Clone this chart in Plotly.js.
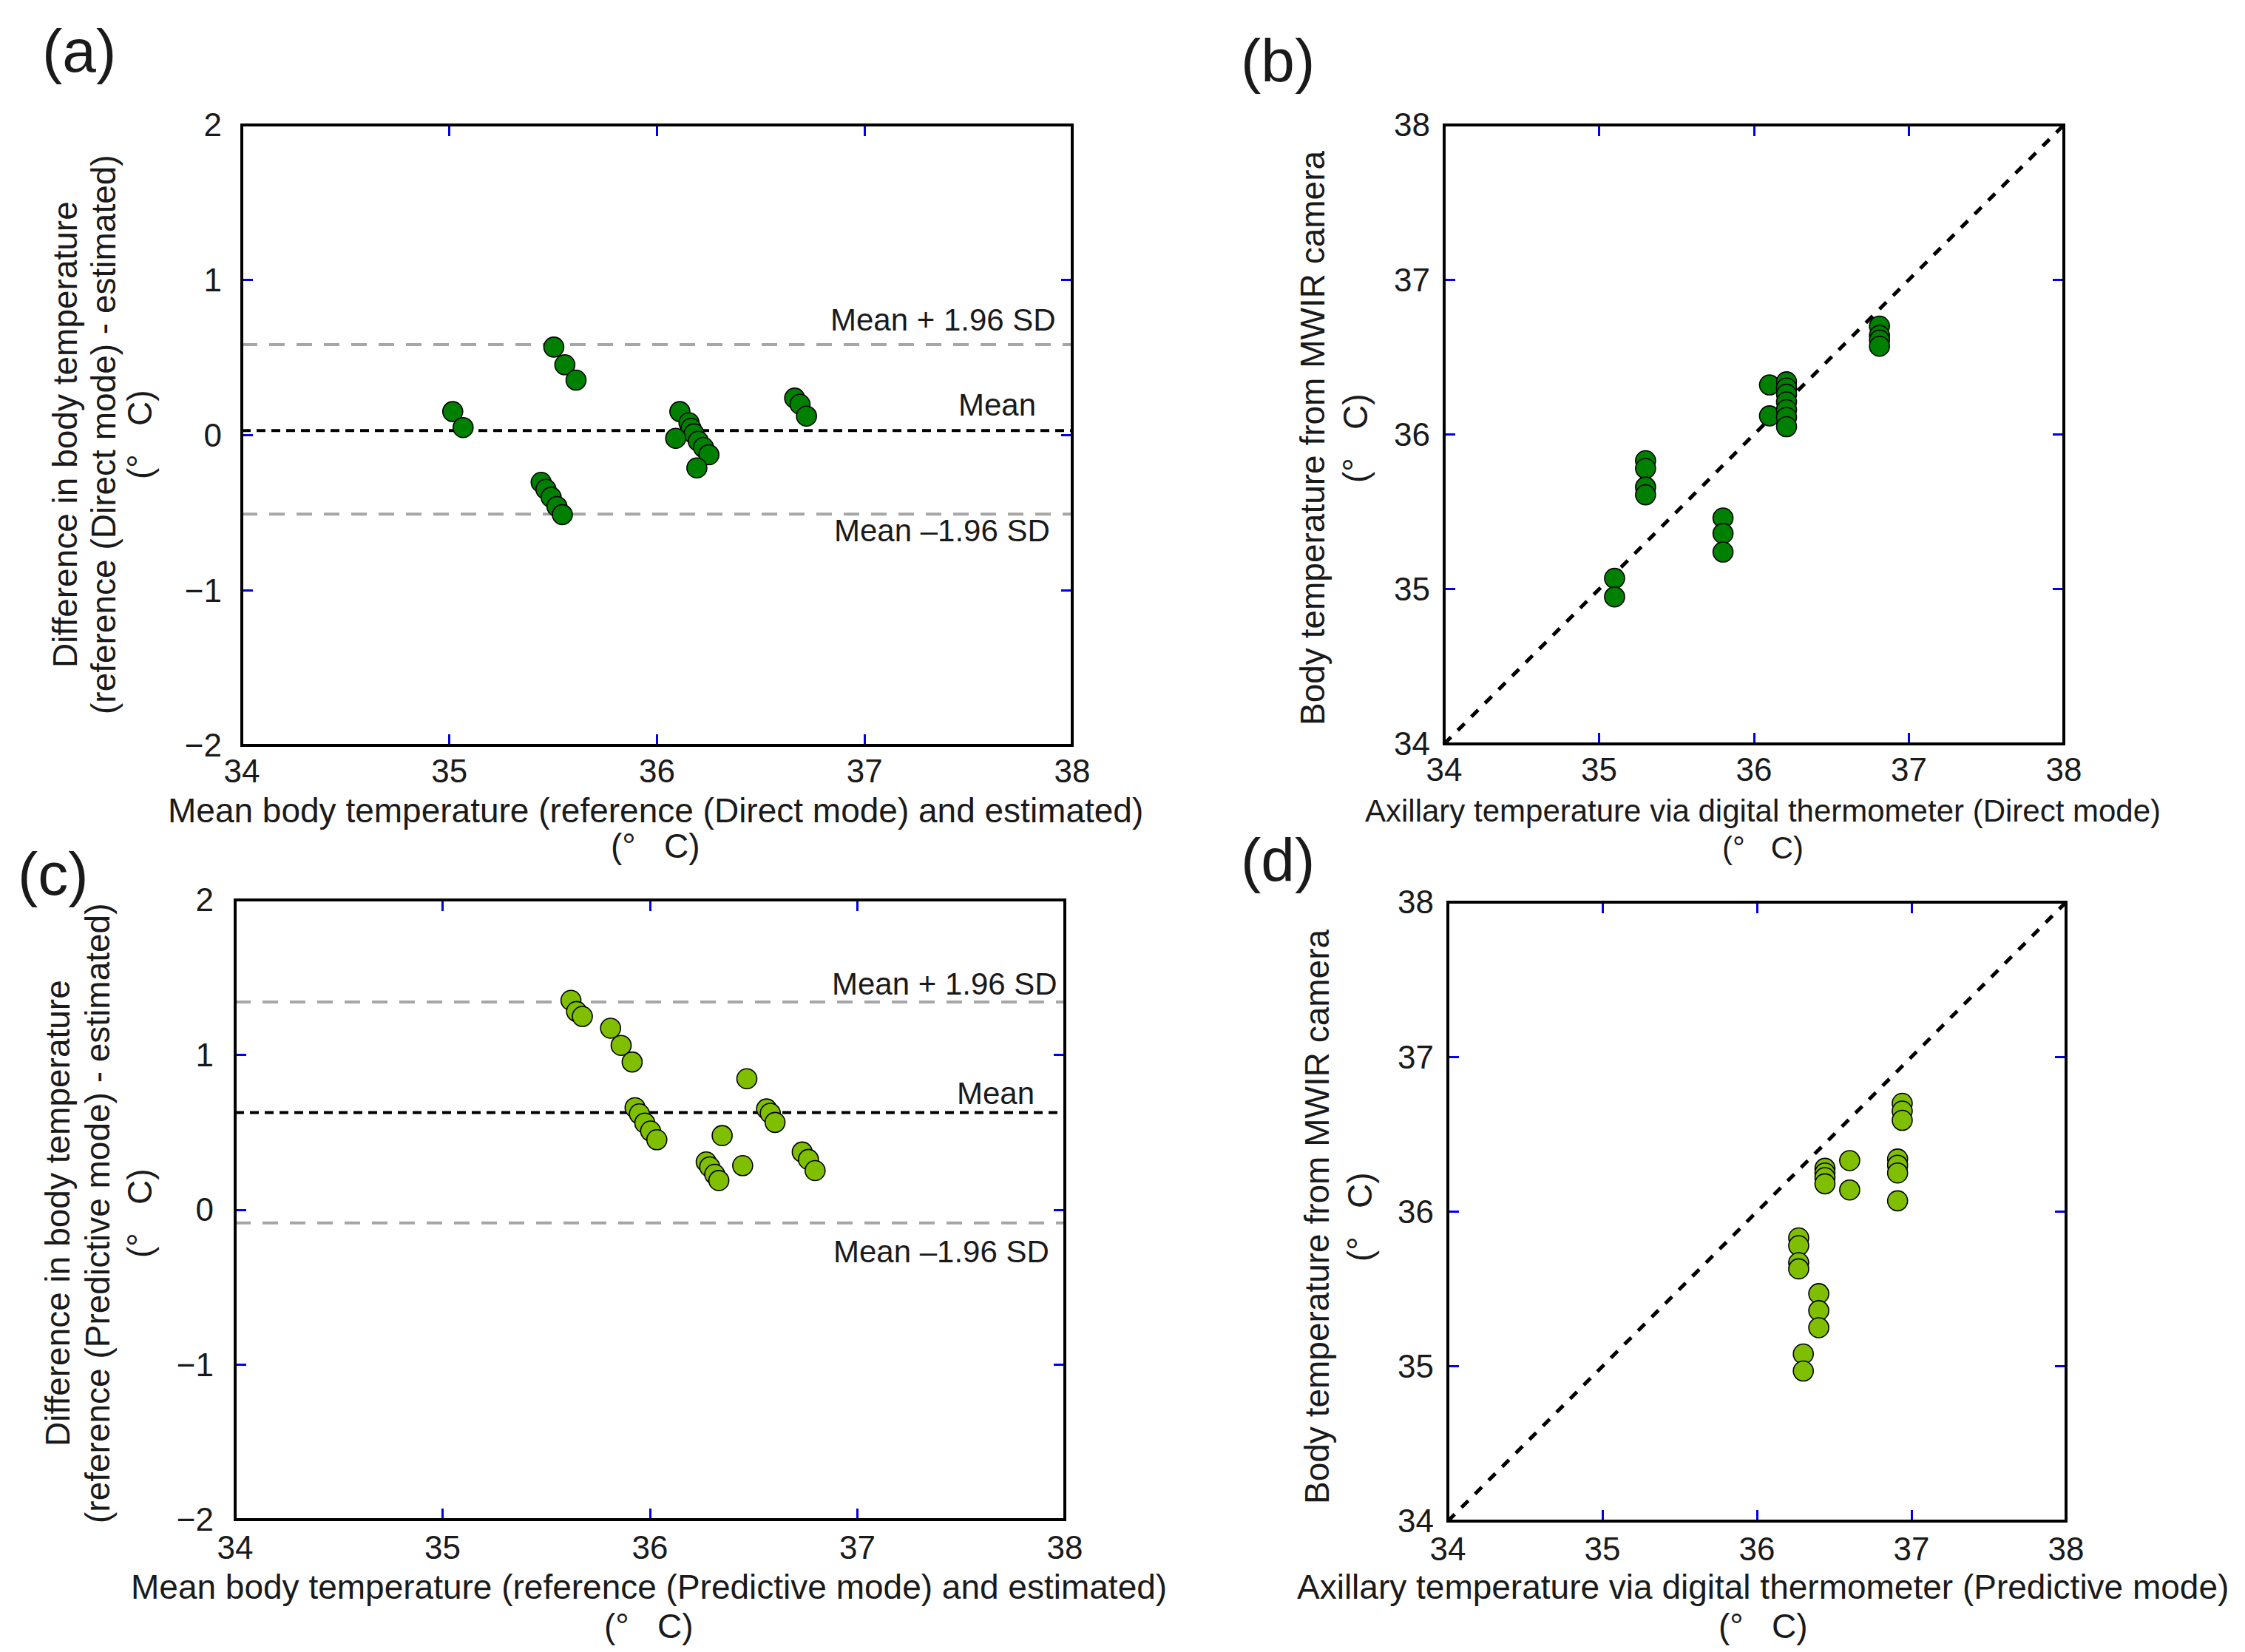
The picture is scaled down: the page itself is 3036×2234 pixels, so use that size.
<!DOCTYPE html>
<html>
<head>
<meta charset="utf-8">
<script src="https://cdn.plot.ly/plotly-3.0.1.min.js"></script>
<style>
  html, body { margin: 0; padding: 0; background: #fff; }
  #chart { width: 3036px; height: 2234px; }
</style>
</head>
<body>
<div id="chart"></div>
<script>
// (a) Bland-Altman, Direct mode
var aMean = [35.016, 35.066, 35.503, 35.556, 35.610, 35.442, 35.465, 35.490, 35.518, 35.544,
             36.110, 36.154, 36.164, 36.178, 36.090, 36.199, 36.224, 36.250, 36.192,
             36.663, 36.689, 36.720];
var aDiff = [0.152, 0.049, 0.568, 0.454, 0.355, -0.304, -0.349, -0.400, -0.460, -0.512,
             0.152, 0.080, 0.044, 0.009, -0.020, -0.039, -0.079, -0.126, -0.211,
             0.239, 0.199, 0.123];
var aLimits = { mean: 0.03, upper: 0.584, lower: -0.509 };

// (b) camera vs thermometer, Direct mode
var bRef = [35.10, 35.10, 35.30, 35.30, 35.30, 35.30, 35.80, 35.80, 35.80, 36.10, 36.10,
            36.21, 36.21, 36.21, 36.21, 36.21, 36.21, 36.21, 36.81, 36.81, 36.81, 36.81];
var bEst = [35.07, 34.95, 35.83, 35.78, 35.66, 35.61, 35.46, 35.36, 35.24, 36.32, 36.12,
            36.34, 36.30, 36.26, 36.21, 36.16, 36.11, 36.05, 36.70, 36.64, 36.61, 36.57];

// (c) Bland-Altman, Predictive mode
var cMean = [35.619, 35.646, 35.674, 35.810, 35.861, 35.914, 35.928, 35.949, 35.975, 36.003,
             36.033, 36.467, 36.562, 36.580, 36.603, 36.348, 36.447, 36.271, 36.288, 36.312,
             36.332, 36.734, 36.764, 36.796];
var cDiff = [1.352, 1.280, 1.248, 1.172, 1.061, 0.954, 0.659, 0.619, 0.560, 0.508,
             0.452, 0.846, 0.651, 0.623, 0.564, 0.479, 0.285, 0.309, 0.277, 0.229,
             0.189, 0.373, 0.325, 0.253];
var cLimits = { mean: 0.628, upper: 1.341, lower: -0.085 };

// (d) camera vs thermometer, Predictive mode
var dRef = [36.27, 36.27, 36.27, 36.27, 36.30, 36.30, 36.40, 36.40, 36.40,
            36.44, 36.44, 36.44, 36.44, 36.60, 36.60, 36.91, 36.91, 36.91, 36.91,
            36.94, 36.94, 36.94];
var dEst = [35.83, 35.78, 35.67, 35.63, 35.08, 34.97, 35.47, 35.36, 35.25,
            36.28, 36.25, 36.22, 36.18, 36.33, 36.14, 36.34, 36.30, 36.25, 36.07,
            36.70, 36.65, 36.59];

var tempTicks = [34, 35, 36, 37, 38];
var diffTicks = [-2, -1, 0, 1, 2];
var identityLine = [34, 38];

var FONT = 'Arial, "Liberation Sans", sans-serif';
var TXT = '#1a1a1a';
var DEG = '(°\u00a0\u00a0\u00a0C)';

function markers(color) {
    return { size: 27, color: color, line: { color: '#000', width: 1.6 } };
}

function hline(xa, ya, yv, color, dash) {
    return {
        x: identityLine, y: [yv, yv], xaxis: xa, yaxis: ya,
        mode: 'lines', type: 'scatter', hoverinfo: 'skip',
        line: { color: color, width: 4, dash: dash }
    };
}

var data = [];
// bland-altman panels
[['x', 'y', aMean, aDiff, aLimits, '#008000'], ['x3', 'y3', cMean, cDiff, cLimits, '#80BF00']].forEach(function (p) {
    data.push(hline(p[0], p[1], p[4].upper, '#a6a6a6', '21px,16px'));
    data.push(hline(p[0], p[1], p[4].lower, '#a6a6a6', '21px,16px'));
    data.push(hline(p[0], p[1], p[4].mean, '#000', '12px,8px'));
    data.push({ x: p[2], y: p[3], xaxis: p[0], yaxis: p[1], mode: 'markers', type: 'scatter', marker: markers(p[5]) });
});
// scatter panels
[['x2', 'y2', bRef, bEst, '#008000'], ['x4', 'y4', dRef, dEst, '#80BF00']].forEach(function (p) {
    data.push({
        x: identityLine, y: identityLine, xaxis: p[0], yaxis: p[1], mode: 'lines', type: 'scatter',
        hoverinfo: 'skip', line: { color: '#000', width: 5, dash: '13px,13px' }
    });
    data.push({ x: p[2], y: p[3], xaxis: p[0], yaxis: p[1], mode: 'markers', type: 'scatter', marker: markers(p[4]) });
});

function axis(domain, anchor, range, ticks, standoff) {
    return {
        domain: domain, anchor: anchor, range: range,
        tickmode: 'array', tickvals: ticks, ticktext: ticks.map(function (t) { return t < 0 ? '\u2212' + (-t) : String(t); }),
        ticks: 'inside', ticklen: 15, tickwidth: 3, tickcolor: '#0000ee',
        mirror: 'ticks', showline: false, showgrid: false, zeroline: false,
        ticklabelstandoff: standoff,
        tickfont: { family: FONT, size: 44, color: TXT }
    };
}

// pixel -> paper helpers
function px(v) { return v / 3036; }
function py(v) { return 1 - v / 2234; }

var frames = ['', '2', '3', '4'].map(function (s) {
    return {
        type: 'rect', xref: 'x' + s + ' domain', yref: 'y' + s + ' domain',
        x0: 0, x1: 1, y0: 0, y1: 1, layer: 'above',
        line: { color: '#000', width: 4 }, fillcolor: 'rgba(0,0,0,0)'
    };
});

// one annotation per title line so the line spacing can follow the reference
function xTitle(lines, cx, ys, size) {
    return lines.map(function (t, i) {
        return {
            text: t, xref: 'paper', yref: 'paper', x: px(cx), y: py(ys[i]),
            xanchor: 'center', yanchor: 'middle', showarrow: false,
            font: { family: FONT, size: size, color: TXT }
        };
    });
}
function yTitle(lines, xs, cy, size) {
    return lines.map(function (t, i) {
        return {
            text: t, xref: 'paper', yref: 'paper', x: px(xs[i]), y: py(cy),
            xanchor: 'center', yanchor: 'middle', showarrow: false, textangle: -90,
            font: { family: FONT, size: size, color: TXT }
        };
    });
}

function lineLabel(text, xr, yr, xd, yv, shift) {
    return {
        text: text, xref: xr + ' domain', yref: yr, x: xd, y: yv,
        xanchor: 'right', yanchor: 'middle', yshift: shift, showarrow: false,
        font: { family: FONT, size: 42, color: TXT }
    };
}

function panel(text, x, y) {
    return {
        text: text, xref: 'paper', yref: 'paper', x: px(x), y: py(y),
        xanchor: 'center', yanchor: 'middle', showarrow: false,
        font: { family: FONT, size: 82, color: TXT }
    };
}

var annotations = [
    panel('(a)', 107, 68), panel('(b)', 1728, 82), panel('(c)', 72, 1181), panel('(d)', 1728, 1162),

    lineLabel('Mean + 1.96 SD', 'x', 'y', 0.982, aLimits.upper, 34),
    lineLabel('Mean', 'x', 'y', 0.958, aLimits.mean, 35),
    lineLabel('Mean \u20131.96 SD', 'x', 'y', 0.975, aLimits.lower, -22),
    lineLabel('Mean + 1.96 SD', 'x3', 'y3', 0.993, cLimits.upper, 25),
    lineLabel('Mean', 'x3', 'y3', 0.965, cLimits.mean, 26),
    lineLabel('Mean \u20131.96 SD', 'x3', 'y3', 0.983, cLimits.lower, -39)
].concat(
    xTitle(['Mean body temperature (reference (Direct mode) and estimated)', DEG], 886, [1096, 1144], 46),
    yTitle(['Difference in body temperature', '(reference (Direct mode) - estimated)', DEG], [88, 140, 189], 588, 46),
    xTitle(['Axillary temperature via digital thermometer (Direct mode)', DEG], 2384, [1096, 1146], 42),
    yTitle(['Body temperature from MWIR camera', DEG], [1775, 1833], 592, 46),
    xTitle(['Mean body temperature (reference (Predictive mode) and estimated)', DEG], 877, [2146, 2199], 46),
    yTitle(['Difference in body temperature', '(reference (Predictive mode) - estimated)', DEG], [78, 132, 189], 1641, 46),
    xTitle(['Axillary temperature via digital thermometer (Predictive mode)', DEG], 2384, [2146, 2199], 46),
    yTitle(['Body temperature from MWIR camera', DEG], [1781, 1839], 1645, 46)
);

var layout = {
    width: 3036, height: 2234,
    margin: { l: 0, r: 0, t: 0, b: 0 },
    paper_bgcolor: '#fff', plot_bgcolor: '#fff',
    showlegend: false,
    font: { family: FONT, color: TXT },
    xaxis: axis([px(327), px(1450)], 'y', [34, 38], tempTicks, 5),
    yaxis: axis([py(1008), py(169)], 'x', [-2, 2], diffTicks, 26),
    xaxis2: axis([px(1953), px(2791)], 'y2', [34, 38], tempTicks, 5),
    yaxis2: axis([py(1006), py(169)], 'x2', [34, 38], tempTicks, 18),
    xaxis3: axis([px(318), px(1440)], 'y3', [34, 38], tempTicks, 8),
    yaxis3: axis([py(2055), py(1217)], 'x3', [-2, 2], diffTicks, 28),
    xaxis4: axis([px(1958), px(2794)], 'y4', [34, 38], tempTicks, 8),
    yaxis4: axis([py(2057), py(1220)], 'x4', [34, 38], tempTicks, 18),
    shapes: frames,
    annotations: annotations
};

Plotly.newPlot('chart', data, layout, { staticPlot: true });
</script>
</body>
</html>
